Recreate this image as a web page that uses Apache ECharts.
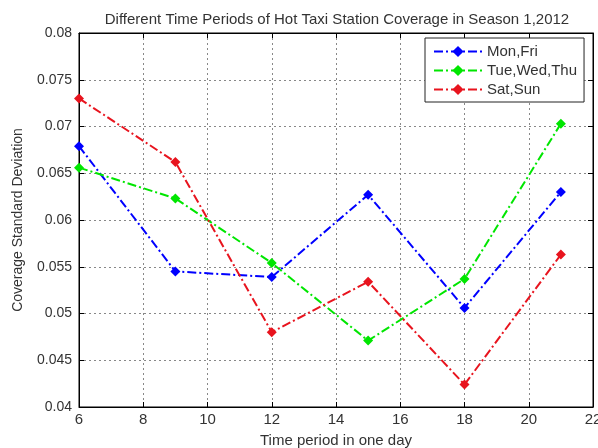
<!DOCTYPE html>
<html><head><meta charset="utf-8">
<script src="https://cdn.jsdelivr.net/npm/echarts@6/dist/echarts.min.js"></script>
<style>html,body{margin:0;padding:0;background:#fff}#c{width:598px;height:448px}</style>
</head><body><div id="c"></div>
<script>
const hours = [6, 9, 12, 15, 18, 21];
const monFri = [0.0679, 0.0545, 0.0539, 0.0627, 0.0506, 0.0630];
const tueWedThu = [0.0656, 0.0623, 0.0554, 0.0471, 0.0537, 0.0703];
const satSun = [0.0730, 0.0662, 0.0480, 0.0534, 0.0424, 0.0563];
const seriesNames = ['Mon,Fri', 'Tue,Wed,Thu', 'Sat,Sun'];
const xTicks = [6, 8, 10, 12, 14, 16, 18, 20, 22];
const yTicks = [0.04, 0.045, 0.05, 0.055, 0.06, 0.065, 0.07, 0.075, 0.08];

const font = 'Liberation Sans';
const colors = ['#0000ff', '#00e600', '#e8141e'];
const dashDot = [9, 3, 2, 3];
const pairs = arr => hours.map((h, i) => [h, arr[i]]);
const lines = [monFri, tueWedThu, satSun];

const gridLine = {show: true, lineStyle: {color: '#888', type: [2, 3], width: 1}};
const chart = echarts.init(document.getElementById('c'));
chart.setOption({
  animation: false,
  backgroundColor: '#fff',
  textStyle: {fontFamily: font},
  title: {
    text: 'Different Time Periods of Hot Taxi Station Coverage in Season 1,2012',
    left: 332, top: 7, textAlign: 'center',
    textStyle: {fontFamily: font, fontSize: 15, fontWeight: 'normal', color: '#333'}
  },
  grid: {left: 79, right: 5, top: 33, bottom: 41, show: true, borderColor: '#000', borderWidth: 1,
         containLabel: false, outerBoundsMode: 'none'},
  legend: {
    orient: 'vertical', left: 425, top: 38,
    padding: [6, 7, 5, 8], itemGap: 4, itemWidth: 48, itemHeight: 14,
    backgroundColor: '#fff', borderColor: '#222', borderWidth: 1,
    textStyle: {fontFamily: font, fontSize: 15, color: '#333'},
    data: seriesNames
  },
  xAxis: [{
    type: 'value', min: xTicks[0], max: xTicks[xTicks.length - 1], interval: 2,
    axisLine: {show: true, lineStyle: {color: '#000'}},
    axisTick: {show: true, inside: true, length: 5, lineStyle: {color: '#000'}},
    axisLabel: {fontFamily: font, fontSize: 15, color: '#333', margin: 5},
    splitLine: gridLine,
    name: 'Time period in one day', nameLocation: 'middle', nameGap: 26,
    nameTextStyle: {fontFamily: font, fontSize: 15, color: '#333'}
  }, {
    type: 'value', position: 'top', min: xTicks[0], max: xTicks[xTicks.length - 1], interval: 2,
    axisLine: {show: true, lineStyle: {color: '#000'}},
    axisTick: {show: true, inside: true, length: 5, lineStyle: {color: '#000'}},
    axisLabel: {show: false}, splitLine: {show: false}
  }],
  yAxis: [{
    type: 'value', min: yTicks[0], max: yTicks[yTicks.length - 1], interval: 0.005,
    axisLine: {show: true, lineStyle: {color: '#000'}},
    axisTick: {show: true, inside: true, length: 5, lineStyle: {color: '#000'}},
    axisLabel: {fontFamily: font, fontSize: 14, color: '#333', margin: 7},
    splitLine: gridLine,
    name: 'Coverage Standard Deviation', nameLocation: 'middle', nameGap: 54,
    nameTextStyle: {fontFamily: font, fontSize: 14, color: '#333'}
  }, {
    type: 'value', position: 'right', min: yTicks[0], max: yTicks[yTicks.length - 1], interval: 0.005,
    axisLine: {show: true, lineStyle: {color: '#000'}},
    axisTick: {show: true, inside: true, length: 5, lineStyle: {color: '#000'}},
    axisLabel: {show: false}, splitLine: {show: false}
  }],
  series: lines.map((arr, i) => ({
    name: seriesNames[i], type: 'line', data: pairs(arr),
    symbol: 'diamond', symbolSize: 10,
    itemStyle: {color: colors[i]},
    lineStyle: {color: colors[i], width: 2, type: dashDot}
  }))
});
</script></body></html>
